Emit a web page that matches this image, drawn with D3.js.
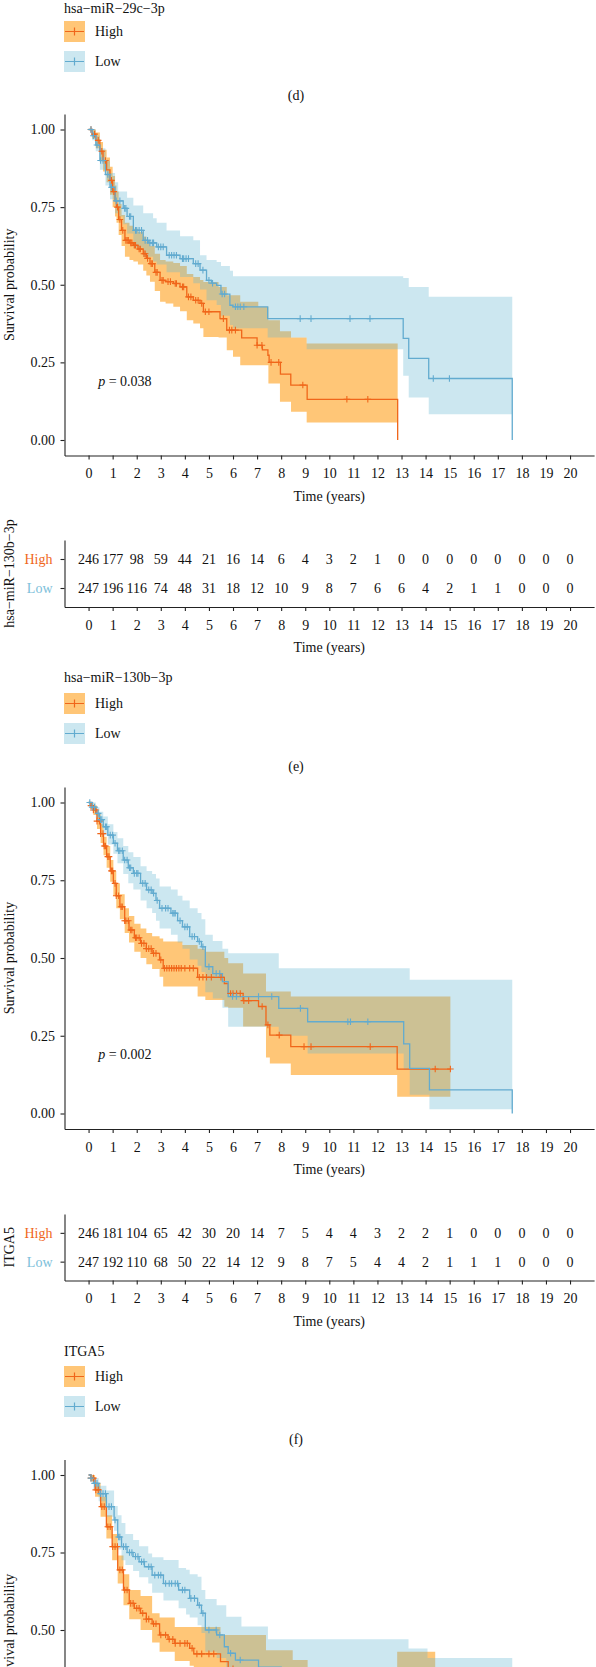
<!DOCTYPE html>
<html><head><meta charset="utf-8">
<script src="https://cdn.jsdelivr.net/npm/d3@7"></script>
<style>html,body{margin:0;padding:0;background:#fff;}svg{display:block;}</style>
</head><body>
<svg id="c" width="596" height="1667"></svg>
<script>
// ---------------- DATA ----------------
const timeTicks = [0,1,2,3,4,5,6,7,8,9,10,11,12,13,14,15,16,17,18,19,20];
const survTicks = [0,0.25,0.5,0.75,1];
const survTickLabels = ["0.00","0.25","0.50","0.75","1.00"];
const groups = ["High","Low"];
const legendTitles = ["hsa−miR−29c−3p","hsa−miR−130b−3p","ITGA5"];
const captions = ["(d)","(e)","(f)"];
const riskTitles = ["hsa−miR−130b−3p","ITGA5"];
const pValues = ["0.038","0.002"];

const eRiskHigh = [246,177,98,59,44,21,16,14,6,4,3,2,1,0,0,0,0,0,0,0,0];
const eRiskLow  = [247,196,116,74,48,31,18,12,10,9,8,7,6,6,4,2,1,1,0,0,0];
const fRiskHigh = [246,181,104,65,42,30,20,14,7,5,4,4,3,2,2,1,0,0,0,0,0];
const fRiskLow  = [247,192,110,68,50,22,14,12,9,8,7,5,4,4,2,1,1,1,0,0,0];

// panel e (hsa-miR-130b-3p) : [time, survival]
const eHighCurve = [[0,1],[0.15,0.985],[0.3,0.965],[0.47,0.93],[0.6,0.9],[0.75,0.87],[0.89,0.836],[1.0,0.8],[1.1,0.77],[1.16,0.75],[1.25,0.71],[1.37,0.675],[1.51,0.643],[1.7,0.635],[1.86,0.627],[2.05,0.615],[2.27,0.6],[2.4,0.585],[2.55,0.568],[2.75,0.54],[2.97,0.514],[3.2,0.51],[3.52,0.504],[3.8,0.493],[4.08,0.461],[4.35,0.45],[4.63,0.44],[4.77,0.413],[5.46,0.391],[5.74,0.354],[6.36,0.329],[7.0,0.305],[7.22,0.29],[7.45,0.273],[7.5,0.25],[7.97,0.212],[8.4,0.177],[9.08,0.131],[12.84,0]];
const eHighBand = [[0,1,1],[0.15,0.97,1],[0.3,0.94,0.99],[0.47,0.9,0.96],[0.6,0.865,0.935],[0.75,0.83,0.91],[0.89,0.79,0.88],[1.0,0.75,0.85],[1.1,0.72,0.82],[1.16,0.7,0.8],[1.25,0.66,0.76],[1.37,0.625,0.725],[1.51,0.59,0.7],[1.7,0.58,0.69],[1.86,0.575,0.68],[2.05,0.565,0.67],[2.27,0.545,0.655],[2.4,0.53,0.64],[2.55,0.51,0.625],[2.75,0.48,0.6],[2.97,0.445,0.58],[3.2,0.44,0.575],[3.52,0.429,0.57],[3.8,0.415,0.56],[4.08,0.386,0.535],[4.35,0.375,0.525],[4.63,0.36,0.515],[4.77,0.332,0.509],[5.4,0.33,0.493],[5.74,0.289,0.466],[6.0,0.268,0.466],[6.3,0.241,0.445],[7.05,0.241,0.429],[7.47,0.182,0.386],[7.95,0.123,0.35],[8.41,0.091,0.33],[9.06,0.056,0.311],[12.84,0.056,0.311]];
const eHighCensor = [0.1,0.25,0.4,0.55,0.7,0.95,1.05,1.2,1.3,1.42,1.55,1.6,1.65,1.75,1.8,1.9,1.95,2.1,2.15,2.3,2.35,2.45,2.6,2.65,2.8,2.85,3.05,3.1,3.3,3.4,3.6,3.65,3.9,3.95,4.15,4.25,4.45,4.55,4.7,4.85,5.0,5.6,5.85,5.95,6.1,7.0,7.2,7.58,7.9,8.9,10.73,11.6];
const eLowCurve = [[0,1],[0.15,0.98],[0.3,0.95],[0.47,0.9],[0.7,0.855],[0.89,0.814],[1.1,0.77],[1.44,0.746],[1.6,0.72],[1.86,0.675],[2.27,0.643],[2.5,0.635],[2.83,0.622],[3.24,0.595],[3.8,0.584],[4.35,0.568],[4.63,0.547],[4.9,0.514],[5.1,0.505],[5.32,0.498],[5.5,0.47],[5.87,0.434],[6.0,0.429],[7.44,0.391],[13.07,0.327],[13.3,0.263],[14.13,0.198],[17.6,0]];
const eLowBand = [[0,1,1],[0.15,0.965,1],[0.3,0.93,0.98],[0.47,0.87,0.94],[0.7,0.82,0.9],[0.89,0.775,0.86],[1.1,0.73,0.83],[1.23,0.72,0.8],[1.44,0.695,0.8],[1.6,0.665,0.78],[1.86,0.62,0.755],[2.27,0.59,0.73],[2.68,0.575,0.714],[2.83,0.565,0.7],[3.24,0.54,0.675],[3.8,0.525,0.656],[4.35,0.505,0.643],[4.63,0.485,0.595],[4.9,0.45,0.58],[5.32,0.435,0.573],[5.5,0.4,0.56],[5.87,0.37,0.545],[6.0,0.36,0.527],[7.44,0.33,0.527],[9.06,0.292,0.527],[13.07,0.207,0.522],[13.3,0.137,0.493],[14.13,0.083,0.461],[17.6,0.083,0.461]];
const eLowCensor = [0.1,0.2,0.35,0.5,0.6,0.8,0.95,1.15,1.3,1.5,1.55,1.7,1.75,1.95,2.0,2.1,2.2,2.35,2.45,2.55,2.65,2.7,2.9,3.0,3.1,3.35,3.45,3.55,3.65,3.9,3.95,4.05,4.15,4.45,4.55,4.75,5.0,5.15,5.55,5.65,6.1,6.2,6.3,6.45,8.79,9.24,10.86,11.69,14.32,14.99];

// panel f (ITGA5)
const fHighCurve = [[0,1],[0.1,0.99],[0.2,0.976],[0.35,0.94],[0.5,0.9],[0.62,0.86],[0.75,0.826],[0.9,0.78],[1.03,0.74],[1.15,0.7],[1.3,0.665],[1.5,0.62],[1.68,0.59],[1.9,0.565],[2.16,0.547],[2.4,0.53],[2.64,0.515],[2.95,0.494],[3.1,0.467],[4.53,0.438],[5.64,0.418],[5.8,0.386],[6.42,0.363],[7.06,0.344],[7.37,0.285],[7.53,0.252],[8.4,0.215],[12.82,0.143],[15.03,0.143]];
const fHighBand = [[0,1,1],[0.1,0.98,1],[0.2,0.96,0.99],[0.35,0.915,0.965],[0.5,0.87,0.93],[0.62,0.83,0.89],[0.75,0.79,0.86],[0.9,0.745,0.815],[1.03,0.7,0.78],[1.15,0.66,0.74],[1.3,0.625,0.705],[1.5,0.58,0.66],[1.68,0.55,0.635],[1.9,0.52,0.61],[2.16,0.5,0.595],[2.4,0.48,0.58],[2.64,0.465,0.57],[2.95,0.44,0.563],[3.1,0.408,0.553],[3.9,0.408,0.542],[4.53,0.376,0.53],[4.85,0.365,0.52],[5.64,0.343,0.5],[5.8,0.34,0.483],[6.42,0.28,0.45],[7.37,0.18,0.392],[7.53,0.161,0.392],[8.4,0.124,0.376],[12.82,0.054,0.376],[15.03,0.054,0.376]];
const fHighCensor = [0.1,0.2,0.3,0.35,0.45,0.5,0.6,0.65,0.7,0.8,0.85,0.95,1.0,1.1,1.15,1.25,1.35,1.4,1.5,1.55,1.65,1.75,1.8,1.95,2.0,2.1,2.2,2.3,2.4,2.5,2.6,2.7,2.8,3.0,3.15,3.25,3.35,3.45,3.55,3.65,3.75,3.85,4.0,4.2,4.35,4.6,4.75,4.9,5.1,5.5,5.9,6.0,6.15,6.3,6.45,6.65,7.21,7.45,7.92,8.95,9.24,11.7,14.4,15.03];
const fLowCurve = [[0,1],[0.15,0.985],[0.3,0.965],[0.45,0.945],[0.61,0.922],[0.8,0.895],[1.03,0.869],[1.2,0.845],[1.44,0.815],[1.65,0.79],[1.86,0.772],[2.16,0.74],[2.41,0.719],[2.64,0.708],[2.8,0.685],[2.95,0.66],[3.42,0.644],[3.7,0.62],[3.9,0.6],[4.2,0.569],[4.53,0.553],[4.69,0.536],[4.85,0.472],[5.16,0.45],[5.56,0.424],[5.8,0.376],[7.9,0.338],[9.1,0.295],[13.09,0.224],[13.34,0.145],[14.16,0.076],[17.6,0]];
const fLowBand = [[0,1,1],[0.15,0.975,1],[0.3,0.95,0.985],[0.45,0.925,0.97],[0.61,0.895,0.955],[0.8,0.865,0.93],[1.03,0.835,0.905],[1.2,0.805,0.885],[1.44,0.77,0.86],[1.65,0.74,0.84],[1.86,0.72,0.825],[2.16,0.685,0.795],[2.41,0.66,0.78],[2.64,0.645,0.77],[2.8,0.62,0.756],[2.95,0.595,0.73],[3.42,0.575,0.72],[3.7,0.55,0.7],[3.9,0.53,0.685],[4.2,0.495,0.66],[4.53,0.475,0.645],[4.69,0.455,0.625],[4.85,0.39,0.575],[5.16,0.37,0.555],[5.56,0.34,0.53],[5.8,0.279,0.515],[7.9,0.25,0.467],[9.1,0.193,0.467],[13.09,0.14,0.467],[13.34,0.06,0.43],[14.16,0.014,0.43],[17.6,0.014,0.43]];
const fLowCensor = [0.05,0.15,0.25,0.4,0.5,0.55,0.7,0.75,0.9,1.0,1.1,1.25,1.3,1.4,1.5,1.6,1.7,1.75,1.9,2.0,2.05,2.25,2.35,2.5,2.6,2.7,2.85,3.05,3.2,3.3,3.5,3.55,3.6,3.8,4.0,4.1,4.3,4.4,4.6,4.75,5.0,5.3,5.45,5.98,6.14,7.06,7.61,8.8,10.77,10.88,11.6];

// panel g (partly visible at bottom)
const gHighCurve = [[0,1],[0.1,0.99],[0.27,0.952],[0.5,0.898],[0.74,0.833],[0.98,0.769],[1.21,0.694],[1.45,0.629],[1.69,0.586],[1.9,0.57],[2.16,0.554],[2.4,0.535],[2.64,0.52],[2.95,0.484],[3.3,0.47],[3.58,0.457],[4.2,0.441],[4.37,0.423],[5.48,0.398],[5.8,0.375],[6.5,0.35],[7.4,0.3],[8.4,0.26],[12.8,0.2],[14.4,0.2]];
const gHighBand = [[0,1,1],[0.1,0.98,1],[0.27,0.93,0.975],[0.5,0.865,0.93],[0.74,0.795,0.87],[0.98,0.725,0.81],[1.21,0.65,0.74],[1.45,0.58,0.68],[1.69,0.535,0.629],[2.16,0.5,0.61],[2.64,0.46,0.554],[2.95,0.43,0.54],[3.58,0.4,0.51],[4.2,0.385,0.51],[4.37,0.36,0.51],[5.48,0.335,0.484],[5.8,0.31,0.484],[6.5,0.28,0.484],[7.37,0.23,0.435],[8.48,0.19,0.403],[9.1,0.18,0.37],[12.82,0.1,0.43],[14.4,0.1,0.43]];
const gHighCensor = [0.1,0.2,0.3,0.4,0.55,0.65,0.8,0.9,1.0,1.1,1.2,1.3,1.4,1.5,1.6,1.75,1.85,2.0,2.1,2.25,2.4,2.5,2.7,2.8,3.0,3.2,3.35,3.5,3.6,3.8,4.0,4.1,4.3,4.5,4.7,5.0,5.2,6.0,7.0,9.0,11.0];
const gLowCurve = [[0,1],[0.1,0.99],[0.2,0.973],[0.42,0.94],[0.74,0.898],[1.06,0.855],[1.21,0.8],[1.37,0.769],[1.6,0.75],[1.85,0.737],[2.1,0.72],[2.32,0.704],[2.64,0.677],[3.11,0.65],[3.74,0.629],[4.2,0.602],[4.53,0.58],[4.69,0.554],[4.85,0.5],[5.32,0.484],[5.64,0.446],[5.8,0.425],[6.1,0.403],[7.06,0.38],[8.0,0.36],[13.0,0.3],[13.3,0.25],[14.1,0.2],[17.6,0]];
const gLowBand = [[0,1,1],[0.1,0.98,1],[0.2,0.955,0.99],[0.42,0.915,0.965],[0.74,0.865,0.95],[1.06,0.82,0.9],[1.21,0.76,0.87],[1.37,0.725,0.845],[1.53,0.71,0.81],[1.85,0.69,0.79],[2.1,0.67,0.77],[2.48,0.65,0.747],[2.64,0.62,0.735],[3.11,0.595,0.726],[3.74,0.57,0.7],[4.05,0.55,0.694],[4.2,0.54,0.68],[4.53,0.515,0.672],[4.69,0.49,0.629],[4.85,0.43,0.6],[5.32,0.41,0.58],[5.72,0.37,0.543],[6.1,0.34,0.543],[6.35,0.33,0.511],[7.45,0.3,0.47],[13.29,0.15,0.44],[14.08,0.1,0.41],[17.6,0.1,0.41]];
const gLowCensor = [0.1,0.25,0.35,0.5,0.6,0.7,0.85,0.95,1.1,1.25,1.3,1.45,1.55,1.7,1.8,1.95,2.05,2.2,2.3,2.5,2.6,2.75,2.9,3.0,3.2,3.35,3.45,3.6,3.7,3.9,4.0,4.25,4.4,4.6,4.75,5.0,5.3,5.45,5.9,6.3,8,10,12];

// ---------------- STYLE ----------------
const FONT = "'Liberation Serif','Times New Roman',serif";
const FS = 14;
const PAGE_H = 1667;
const HIGH_LINE = "#F0661A", LOW_LINE = "#62ABCF";
const HIGH_FILL = "#FFC677", LOW_FILL = "rgba(100,182,210,0.33)";
const AXIS_COL = "#222";

const svg = d3.select("#c");
const x = d3.scaleLinear().domain([-1,21]).range([64.5,594.1]);

function stepAt(curve,t){let v=curve[0][1];for(const p of curve){if(p[0]<=t)v=p[1];else break;}return v;}

function styleAxis(g){
  g.attr("font-family",FONT).attr("font-size",FS).attr("color",AXIS_COL);
  g.selectAll("path,line").attr("stroke-width",1.1);
  g.selectAll("text").attr("fill","#111");
}

function xAxis(yLine){
  const g = svg.append("g").attr("transform",`translate(0,${yLine})`)
    .call(d3.axisBottom(x).tickValues(timeTicks).tickSize(4).tickSizeOuter(0));
  styleAxis(g);
  g.selectAll("text").attr("y",18).attr("dy","0.35em");
  svg.append("text").attr("x",(x.range()[0]+x.range()[1])/2).attr("y",yLine+40.5)
    .attr("text-anchor","middle").attr("dy","0.35em")
    .attr("font-family",FONT).attr("font-size",FS).attr("fill","#111").text("Time (years)");
}

function km(yOne,yZero,high,low,pval,showX){
  const y = d3.scaleLinear().domain([0,1]).range([yZero,yOne]);
  const yb = y(-0.05), yt = y(1.05);
  const ys = d3.scaleLinear().domain([-0.05,1.05]).range([yb,yt]);
  const area = d3.area().curve(d3.curveStepAfter).x(d=>x(d[0])).y0(d=>y(d[1])).y1(d=>y(d[2]));
  const line = d3.line().curve(d3.curveStepAfter).x(d=>x(d[0])).y(d=>y(d[1]));
  svg.append("path").datum(high.band).attr("d",area).attr("fill",HIGH_FILL);
  svg.append("path").datum(low.band).attr("d",area).attr("fill",LOW_FILL);
  [[high,HIGH_LINE],[low,LOW_LINE]].forEach(([s,c])=>{
    svg.append("path").datum(s.curve).attr("d",line).attr("fill","none").attr("stroke",c).attr("stroke-width",1.3);
  });
  [[high,HIGH_LINE],[low,LOW_LINE]].forEach(([s,c])=>{
    svg.append("g").selectAll("path").data(s.censor).join("path")
      .attr("d",t=>{const cx=x(t),cy=y(stepAt(s.curve,t));return `M${cx-3.3},${cy}H${cx+3.3}M${cx},${cy-3.3}V${cy+3.3}`;})
      .attr("stroke",c).attr("stroke-width",1.1).attr("fill","none");
  });
  // y axis (only ticks that fall on the page)
  const visTicks = survTicks.filter(v=>ys(v) < PAGE_H-8);
  const ga = svg.append("g").attr("transform",`translate(${x.range()[0]},0)`)
    .call(d3.axisLeft(ys).tickValues(visTicks).tickFormat(d=>survTickLabels[survTicks.indexOf(d)]).tickSize(4).tickPadding(5.5).tickSizeOuter(0));
  styleAxis(ga);
  svg.append("text").attr("transform",`translate(9,${(yb+yt)/2}) rotate(-90)`)
    .attr("text-anchor","middle").attr("dy","0.35em")
    .attr("font-family",FONT).attr("font-size",FS).attr("fill","#111").text("Survival probability");
  if(pval){
    const t = svg.append("text").attr("x",x(0.4)).attr("y",y(0.19)).attr("dy","0.35em")
      .attr("font-family",FONT).attr("font-size",FS).attr("fill","#111");
    t.append("tspan").attr("font-style","italic").text("p");
    t.append("tspan").text(" = "+pval);
  }
  if(showX) xAxis(yb);
}

function riskTable(top,bottom,title,highRow,lowRow){
  const yr = d3.scalePoint().domain(groups).range([top,bottom]).padding(0.655);
  const ga = svg.append("g").attr("transform",`translate(${x.range()[0]},0)`)
    .call(d3.axisLeft(yr).tickSize(4).tickPadding(8).tickSizeOuter(0));
  styleAxis(ga);
  ga.selectAll("text").attr("fill",d=>d==="High"?HIGH_LINE:"#7CC0DA");
  const rows = [[groups[0],highRow],[groups[1],lowRow]];
  rows.forEach(([gname,vals])=>{
    svg.append("g").selectAll("text").data(vals).join("text")
      .attr("x",(d,i)=>x(timeTicks[i])).attr("y",yr(gname)).attr("dy","0.35em")
      .attr("text-anchor","middle").attr("font-family",FONT).attr("font-size",FS).attr("fill","#111")
      .text(d=>d);
  });
  svg.append("text").attr("transform",`translate(9.5,${(top+bottom)/2}) rotate(-90)`)
    .attr("text-anchor","middle").attr("dy","0.35em")
    .attr("font-family",FONT).attr("font-size",FS).attr("fill","#111").text(title);
  xAxis(bottom);
}

function legend(titleY,boxTop,title,caption,capY){
  svg.append("text").attr("x",64).attr("y",titleY).attr("dy","0.35em")
    .attr("font-family",FONT).attr("font-size",FS).attr("fill","#111").text(title);
  [[groups[0],HIGH_FILL,HIGH_LINE,0],[groups[1],LOW_FILL,LOW_LINE,30]].forEach(([name,f,c,off])=>{
    const t=boxTop+off;
    svg.append("rect").attr("x",64).attr("y",t).attr("width",21).attr("height",21).attr("fill",f);
    svg.append("path").attr("d",`M65,${t+10.5}H84M74.5,${t+6.5}V${t+14.5}`).attr("stroke",c).attr("stroke-width",1.2).attr("fill","none");
    svg.append("text").attr("x",95).attr("y",t+10.5).attr("dy","0.35em")
      .attr("font-family",FONT).attr("font-size",FS).attr("fill","#111").text(name);
  });
  svg.append("text").attr("x",296).attr("y",capY).attr("dy","0.35em").attr("text-anchor","middle")
    .attr("font-family",FONT).attr("font-size",FS).attr("fill","#111").text(caption);
}

// ---------------- LAYOUT ----------------
legend(8,21,legendTitles[0],captions[0],95);

km(129.5,440,{curve:eHighCurve,band:eHighBand,censor:eHighCensor},{curve:eLowCurve,band:eLowBand,censor:eLowCensor},pValues[0],true);
riskTable(540,607,riskTitles[0],eRiskHigh,eRiskLow);
legend(677,693,legendTitles[1],captions[1],766);

km(802.5,1113.5,{curve:fHighCurve,band:fHighBand,censor:fHighCensor},{curve:fLowCurve,band:fLowBand,censor:fLowCensor},pValues[1],true);
riskTable(1214,1280.5,riskTitles[1],fRiskHigh,fRiskLow);
legend(1351.5,1366,legendTitles[2],captions[2],1439);

km(1475,1785,{curve:gHighCurve,band:gHighBand,censor:gHighCensor},{curve:gLowCurve,band:gLowBand,censor:gLowCensor},null,false);
</script>
</body></html>
